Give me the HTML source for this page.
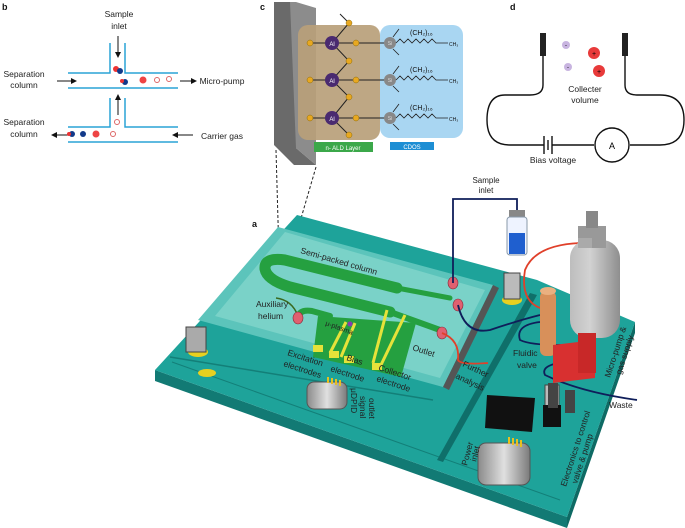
<!DOCTYPE html>
<html><head><meta charset="utf-8"><style>
body{margin:0;background:#fff}
svg{display:block;font-family:"Liberation Sans",sans-serif}
</style></head><body>
<svg width="685" height="528" viewBox="0 0 685 528" xmlns="http://www.w3.org/2000/svg">
<defs>
<marker id="ar" markerWidth="6" markerHeight="6" refX="5" refY="3" orient="auto"><path d="M0,0 L6,3 L0,6 Z" fill="#111"/></marker>
<linearGradient id="bot" x1="0" x2="1"><stop offset="0" stop-color="#8a8a8a"/><stop offset=".5" stop-color="#e0e0e0"/><stop offset="1" stop-color="#7a7a7a"/></linearGradient>
<linearGradient id="cyl" x1="0" x2="1"><stop offset="0" stop-color="#bdbdbd"/><stop offset=".4" stop-color="#d2d2d2"/><stop offset="1" stop-color="#8e8e8e"/></linearGradient>
</defs>
<g font-weight="bold" font-size="9" fill="#111">
<text x="2" y="10">b</text><text x="260" y="10">c</text><text x="510" y="10">d</text><text x="252" y="227">a</text>
</g>
<!-- panel b -->
<g stroke="#2aa3d6" stroke-width="1.5" fill="none">
<path d="M68,73 H110 V43 M125,43 V73 H178"/><path d="M68,88 H178"/>
<path d="M68,127 H110 V98 M125,98 V127 H178"/><path d="M68,142 H178"/>
</g>
<g font-size="8.5" fill="#222" text-anchor="middle">
<text x="119" y="17">Sample</text><text x="119" y="29">inlet</text>
<text x="24" y="77">Separation</text><text x="24" y="88">column</text>
<text x="222" y="84" >Micro-pump</text>
<text x="24" y="125">Separation</text><text x="24" y="137">column</text>
<text x="222" y="139">Carrier gas</text>
</g>
<g stroke="#111" stroke-width="1" fill="none">
<line x1="118" y1="36" x2="118" y2="57" marker-end="url(#ar)"/>
<line x1="57" y1="81" x2="76" y2="81" marker-end="url(#ar)"/>
<line x1="180" y1="81" x2="196" y2="81" marker-end="url(#ar)"/>
<line x1="118" y1="115" x2="118" y2="95" marker-end="url(#ar)"/>
<line x1="68" y1="135" x2="52" y2="135" marker-end="url(#ar)"/>
<line x1="193" y1="135" x2="173" y2="135" marker-end="url(#ar)"/>
</g>
<g>
<circle cx="116" cy="69" r="3" fill="#e33"/><circle cx="120" cy="71" r="3" fill="#123a8a"/>
<circle cx="125" cy="82" r="3" fill="#123a8a"/><circle cx="122" cy="81" r="2" fill="#e33"/>
<circle cx="143" cy="80" r="3.5" fill="#e44"/><circle cx="157" cy="80" r="2.5" fill="#fff" stroke="#d66"/><circle cx="169" cy="79" r="2.5" fill="#fff" stroke="#d66"/>
<circle cx="117" cy="122" r="2.5" fill="#fff" stroke="#d66"/>
<circle cx="72" cy="134" r="3" fill="#123a8a"/><circle cx="69" cy="134" r="2" fill="#e33"/><circle cx="83" cy="134" r="3" fill="#123a8a"/><circle cx="96" cy="134" r="3.5" fill="#e44"/><circle cx="113" cy="134" r="2.5" fill="#fff" stroke="#d66"/>
</g>
<!-- panel c -->
<polygon points="274,2 296,2 296,148 316,165 294,165 274,145" fill="#6a6a6a"/>
<polygon points="290,2 296,2 316,8 316,165 296,148" fill="#8c8c8c"/>
<rect x="298" y="25" width="82" height="115" rx="10" fill="#b8a07a" opacity=".92"/>
<rect x="380" y="25" width="83" height="113" rx="10" fill="#a9d6f2"/>
<rect x="314" y="142" width="59" height="10" fill="#3ba84a"/><text x="343" y="150" font-size="6" fill="#fff" text-anchor="middle">n- ALD Layer</text>
<rect x="390" y="142" width="44" height="8" fill="#1d8ed4"/><text x="412" y="149" font-size="6" fill="#fff" text-anchor="middle">CDOS</text>
<g stroke="#222" stroke-width="1" fill="none">
<line x1="349" y1="23" x2="340" y2="14"/>
<path d="M310,43 H390 M310,80 H390 M310,118 H390"/>
<path d="M349,23 L332,43 L349,61 L332,80 L349,97 L332,118 L349,135"/>
</g>
<g fill="#e8a820" stroke="#8a6a10" stroke-width=".5">
<circle cx="349" cy="23" r="3"/><circle cx="310" cy="43" r="3"/><circle cx="356" cy="43" r="3"/><circle cx="349" cy="61" r="3"/>
<circle cx="310" cy="80" r="3"/><circle cx="356" cy="80" r="3"/><circle cx="349" cy="97" r="3"/>
<circle cx="310" cy="118" r="3"/><circle cx="356" cy="118" r="3"/><circle cx="349" cy="135" r="3"/>
</g>
<g fill="#4a2a70"><circle cx="332" cy="43" r="7"/><circle cx="332" cy="80" r="7"/><circle cx="332" cy="118" r="7"/></g>
<g fill="#fff" font-size="6" text-anchor="middle"><text x="332" y="46">Al</text><text x="332" y="83">Al</text><text x="332" y="121">Al</text></g>
<g fill="#888"><circle cx="390" cy="43" r="6"/><circle cx="390" cy="80" r="6"/><circle cx="390" cy="118" r="6"/></g>
<g fill="#ddd" font-size="5" text-anchor="middle"><text x="390" y="45">Si</text><text x="390" y="82">Si</text><text x="390" y="120">Si</text></g>
<g stroke="#222" fill="none" stroke-width=".8">
<path d="M396,43 l4,-4 l4,4 l4,-4 l4,4 l4,-4 l4,4 l4,-4 l4,4 l4,-4 l4,4 H448"/>
<path d="M396,80 l4,-4 l4,4 l4,-4 l4,4 l4,-4 l4,4 l4,-4 l4,4 l4,-4 l4,4 H448"/>
<path d="M396,118 l4,-4 l4,4 l4,-4 l4,4 l4,-4 l4,4 l4,-4 l4,4 l4,-4 l4,4 H448"/>
<path d="M393,37 l6,-8 M393,49 l6,6 M393,74 l6,-8 M393,86 l6,6 M393,112 l6,-8 M393,124 l6,6"/>
</g>
<g font-size="7" fill="#111"><text x="410" y="35">(CH₂)₁₆</text><text x="410" y="72">(CH₂)₁₆</text><text x="410" y="110">(CH₂)₁₆</text>
<text x="449" y="46" font-size="5">CH₃</text><text x="449" y="83" font-size="5">CH₃</text><text x="449" y="121" font-size="5">CH₃</text></g>
<g stroke="#222" stroke-dasharray="3,2" fill="none"><line x1="276" y1="150" x2="279" y2="256"/><line x1="316" y1="167" x2="290" y2="256"/></g>
<rect x="278" y="255" width="12" height="7" fill="none" stroke="#222" stroke-dasharray="2,1.5"/>
<!-- panel d -->
<g stroke="#111" stroke-width="1.4" fill="none">
<path d="M543,55 V85 Q543,95 530,95 H505 Q487,95 487,120 Q487,145 510,145 H544"/>
<path d="M552,145 H594 M630,145 H660 Q684,145 684,120 Q684,95 660,95 H637 Q625,95 625,85 V55"/>
<line x1="544" y1="136" x2="544" y2="154"/><line x1="548" y1="140" x2="548" y2="150"/><line x1="552" y1="136" x2="552" y2="154"/>
</g>
<circle cx="612" cy="145" r="17" fill="#fff" stroke="#111" stroke-width="1.4"/><text x="612" y="149" font-size="9" text-anchor="middle">A</text>
<rect x="540" y="33" width="6" height="23" fill="#222"/><rect x="622" y="33" width="6" height="23" fill="#222"/>
<circle cx="566" cy="45" r="4" fill="#c8b4e0"/><text x="566" y="47" font-size="6" text-anchor="middle">-</text>
<circle cx="568" cy="67" r="4" fill="#c8b4e0"/><text x="568" y="69" font-size="6" text-anchor="middle">-</text>
<circle cx="594" cy="53" r="6" fill="#e83a3a"/><text x="594" y="56" font-size="7" text-anchor="middle">+</text>
<circle cx="599" cy="71" r="6" fill="#e83a3a"/><text x="599" y="74" font-size="7" text-anchor="middle">+</text>
<g font-size="8.5" fill="#222" text-anchor="middle"><text x="585" y="92">Collecter</text><text x="585" y="103">volume</text><text x="553" y="163">Bias voltage</text></g>
<!-- panel a board -->
<polygon points="155,370 567,517 567,528 155,381" fill="#127a74"/>
<polygon points="635,322 567,517 567,528 635,333" fill="#0e6a64"/>
<polygon points="297,215 537,280 635,322 567,517 155,370" fill="#1ea39a"/>
<line x1="170" y1="357" x2="433" y2="400" stroke="#137f78" stroke-width="1.5"/>
<line x1="172" y1="362" x2="560" y2="500" stroke="#137f78" stroke-width="1"/>
<polygon points="530,293 437,460 443,462 537,295" fill="#0f6f6a"/>
<!-- chip -->
<polygon points="278,227 493,285 443,387 198,320" fill="#5cc4bb"/>
<polygon points="285,232 485,290 440,378 215,316" fill="#7ad2c8"/>
<polygon points="443,387 493,285 499,288 449,390" fill="#555"/>
<!-- column -->
<g fill="none" stroke="#25a040" stroke-linecap="round">
<path d="M397,288 L285,260 Q264,257 265,269 Q267,280 290,287 L390,312" stroke-width="11"/>
<path d="M397,288 L450,298" stroke-width="5"/>
<path d="M390,312 L440,330" stroke-width="6"/>
<path d="M298,317 Q300,309 312,311 L330,316" stroke-width="6"/>
</g>
<polygon points="318,316 416,323 401,377 313,357" fill="#25a040"/>
<g stroke="#e6e23a" stroke-width="3"><line x1="346" y1="322" x2="330" y2="353"/><line x1="355" y1="323" x2="341" y2="357"/><line x1="387" y1="310" x2="373" y2="363"/><line x1="405" y1="315" x2="380" y2="367"/></g>
<g fill="#e6e23a"><rect x="313" y="345" width="10" height="7"/><rect x="329" y="351" width="10" height="7"/><rect x="344" y="356" width="10" height="7"/><rect x="372" y="363" width="10" height="7"/></g>
<circle cx="350" cy="324" r="2.5" fill="#8a3ab0"/>
<path d="M276,298 Q292,300 298,316" stroke="#3a6a20" stroke-width="1.5" fill="none"/>
<!-- fittings -->
<g fill="#e06070" stroke="#8a2a3a" stroke-width=".6">
<ellipse cx="298" cy="318" rx="5" ry="6"/><ellipse cx="453" cy="283" rx="5" ry="6"/><ellipse cx="458" cy="305" rx="5" ry="6"/><ellipse cx="442" cy="333" rx="5" ry="6"/>
</g>
<!-- standoffs -->
<ellipse cx="198" cy="352" rx="10" ry="5" fill="#e8d020"/><rect x="186" y="327" width="20" height="25" fill="#aaa" stroke="#444"/>
<ellipse cx="207" cy="373" rx="9" ry="4" fill="#e8d020"/>
<ellipse cx="512" cy="300" rx="10" ry="5" fill="#e8d020"/><rect x="504" y="273" width="16" height="26" fill="#bbb" stroke="#444"/>
<!-- connectors -->
<rect x="307" y="382" width="40" height="27" rx="7" fill="url(#bot)" stroke="#555"/>
<g fill="#e6c020"><rect x="327" y="377" width="2" height="6"/><rect x="331" y="378" width="2" height="6"/><rect x="335" y="379" width="2" height="6"/><rect x="339" y="380" width="2" height="6"/></g>
<rect x="478" y="443" width="52" height="42" rx="8" fill="url(#bot)" stroke="#555"/>
<g fill="#e6c020"><rect x="508" y="437" width="2" height="7"/><rect x="512" y="438" width="2" height="7"/><rect x="516" y="439" width="2" height="7"/><rect x="520" y="440" width="2" height="7"/></g>
<!-- electronics -->
<polygon points="487,395 535,398 532,432 485,428" fill="#111"/>
<rect x="545" y="385" width="14" height="28" fill="#bbb" stroke="#444"/><rect x="543" y="405" width="18" height="22" fill="#111"/>
<rect x="548" y="383" width="10" height="25" fill="#444"/><rect x="565" y="390" width="10" height="23" fill="#444"/>
<!-- tubes / vial -->
<path d="M453,283 V199 H517 V232" stroke="#0f1e5a" stroke-width="1.8" fill="none"/>
<rect x="509" y="210" width="16" height="7" fill="#888"/><rect x="507" y="217" width="20" height="38" rx="3" fill="#eef3ff" stroke="#8899aa"/>
<rect x="509" y="233" width="16" height="21" fill="#1f5fcf"/>
<text x="486" y="183" font-size="8" fill="#222" text-anchor="middle">Sample</text><text x="486" y="193" font-size="8" fill="#222" text-anchor="middle">inlet</text>
<path d="M458,305 Q465,335 490,330 Q520,320 540,315" stroke="#0f1e5a" stroke-width="1.8" fill="none"/>
<path d="M540,322 Q515,325 520,340 Q530,345 560,345 Q570,350 568,360 M565,362 Q540,365 545,375 Q580,392 637,400" stroke="#0f1e5a" stroke-width="1.8" fill="none"/>
<path d="M442,333 Q460,340 458,360 Q460,365 488,363" stroke="#e0402a" stroke-width="1.8" fill="none"/>
<path d="M540,308 Q520,300 525,270 Q535,245 580,243" stroke="#e0402a" stroke-width="1.8" fill="none"/>
<rect x="540" y="291" width="16" height="65" rx="6" fill="#d8905a"/><ellipse cx="548" cy="291" rx="8" ry="4" fill="#eab080"/>
<rect x="570" y="240" width="50" height="98" rx="18" fill="url(#cyl)"/>
<rect x="578" y="226" width="28" height="22" fill="#999"/><rect x="586" y="211" width="12" height="17" fill="#888"/>
<rect x="578" y="238" width="14" height="10" fill="#aaa"/>
<polygon points="553,345 595,340 595,378 553,383" fill="#d83030"/><rect x="578" y="333" width="18" height="40" fill="#c82828"/>
<!-- labels a -->
<g font-size="8.5" fill="#222">
<text x="300" y="253" transform="rotate(16 300 253)">Semi-packed column</text>
<text x="256" y="307">Auxiliary</text><text x="258" y="319">helium</text>
<text x="325" y="325" font-size="7" transform="rotate(20 325 325)">μ-plasma</text>
<text x="412" y="350" transform="rotate(18 412 350)">Outlet</text>
<text x="287" y="355" transform="rotate(18 287 355)">Excitation</text><text x="283" y="366" transform="rotate(18 283 366)">electrodes</text>
<text x="346" y="360" transform="rotate(18 346 360)">Bias</text><text x="330" y="371" transform="rotate(18 330 371)">electrode</text>
<text x="378" y="370" transform="rotate(18 378 370)">Collector</text><text x="376" y="381" transform="rotate(18 376 381)">electrode</text>
<text x="462" y="366" transform="rotate(25 462 366)">Further</text><text x="455" y="378" transform="rotate(25 455 378)">analysis</text>
<text x="513" y="356">Fluidic</text><text x="517" y="368">valve</text>
<text x="609" y="408">Waste</text>
<text transform="translate(351,388) rotate(90)">μDPID</text>
<text transform="translate(360,396) rotate(90)">signal</text>
<text transform="translate(369,398) rotate(90)">outlet</text>
<text transform="translate(467,466) rotate(-75)">Power</text>
<text transform="translate(476,462) rotate(-75)">inlet</text>
<text transform="translate(566,487) rotate(-72)">Electronics to control</text>
<text transform="translate(577,484) rotate(-72)">valve &amp; pump</text>
<text transform="translate(610,378) rotate(-72)">Micro-pump &amp;</text>
<text transform="translate(621,375) rotate(-72)">gas supply</text>
</g>
</svg>
</body></html>
